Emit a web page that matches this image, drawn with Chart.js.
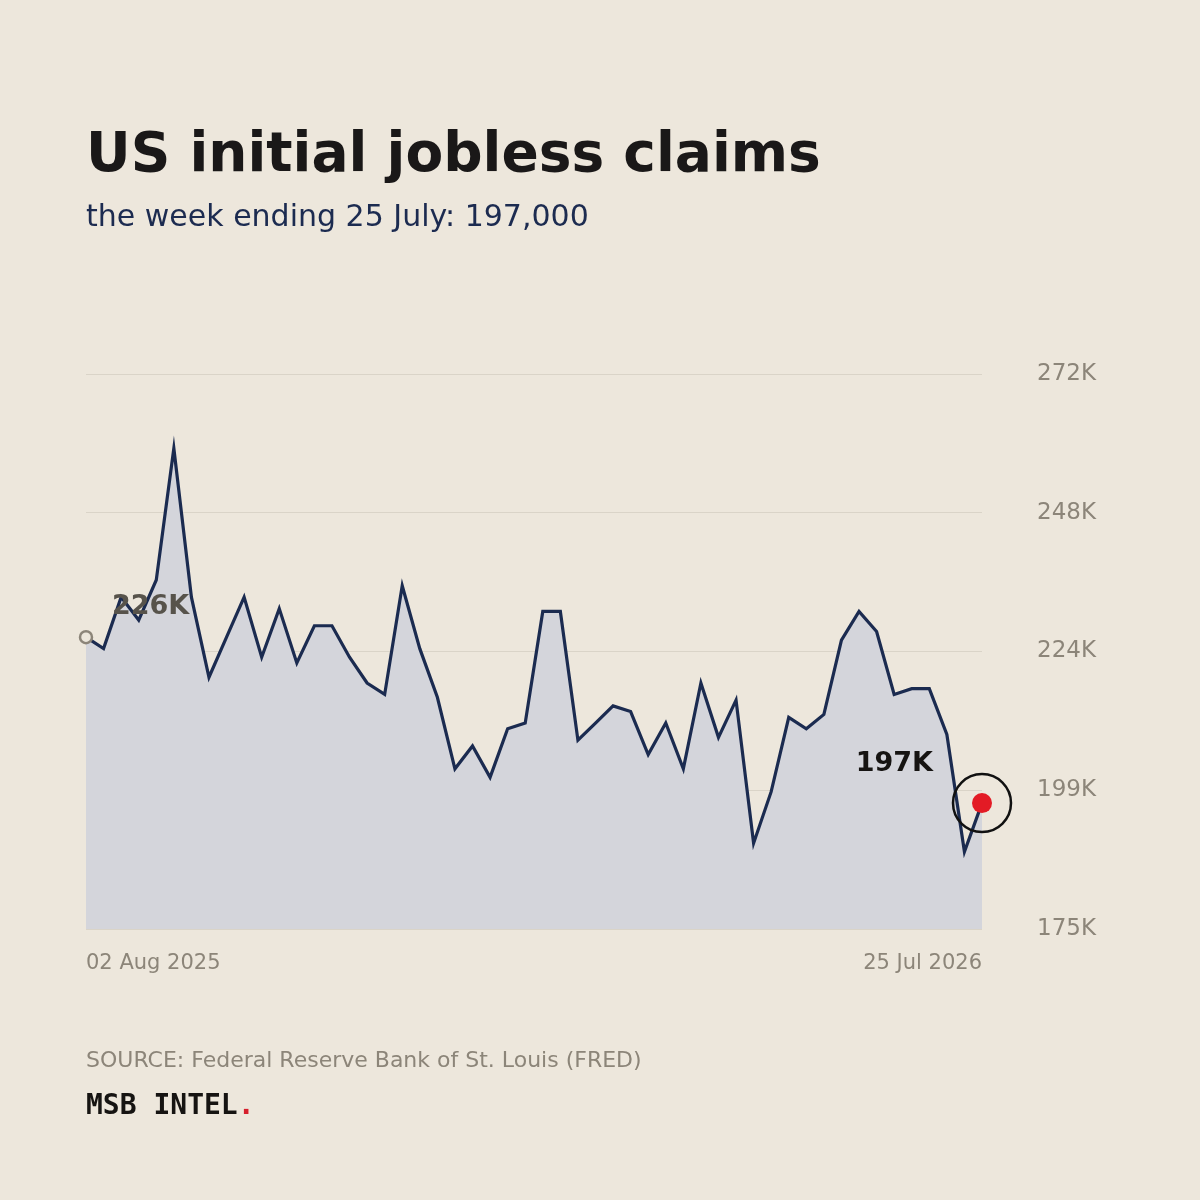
<!DOCTYPE html>
<html>
<head>
<meta charset="utf-8">
<title>US initial jobless claims</title>
<script src="https://cdn.jsdelivr.net/npm/chart.js@4.4.1/dist/chart.umd.min.js"></script>
<style>
  html, body { margin: 0; padding: 0; background: #ede7dc; }
  #wrap { position: relative; width: 1200px; height: 1200px; overflow: hidden; }
  #chart { position: absolute; left: 0; top: 0; }
  .txt { position: absolute; left: 86px; white-space: nowrap; font-family: "DejaVu Sans", sans-serif; }
  .title { top: 125px; font-size: 55px; line-height: 55px; font-weight: bold; color: #1a1818; }
  .sub { top: 201px; font-size: 30px; line-height: 30px; color: #1c2b50; }
  .source { top: 1049px; font-size: 22px; line-height: 22px; color: #8c8579; }
  .brand { top: 1091px; font-family: "DejaVu Sans Mono", monospace; font-size: 28px; line-height: 28px; font-weight: bold; color: #161412; }
  .brand span { color: #d61f2c; }
</style>
</head>
<body>
<div id="wrap">
  <canvas id="chart" width="1200" height="1200"></canvas>
  <div class="txt title">US initial jobless claims</div>
  <div class="txt sub">the week ending 25 July: 197,000</div>
  <div class="txt source">SOURCE: Federal Reserve Bank of St. Louis (FRED)</div>
  <div class="txt brand">MSB INTEL<span>.</span></div>
</div>
<script>
// weekly initial claims, thousands
const WEEKS = [
  '02 Aug 2025', '09 Aug 2025', '16 Aug 2025', '23 Aug 2025', '30 Aug 2025',
  '06 Sep 2025', '13 Sep 2025', '20 Sep 2025', '27 Sep 2025',
  '04 Oct 2025', '11 Oct 2025', '18 Oct 2025', '25 Oct 2025',
  '01 Nov 2025', '08 Nov 2025', '15 Nov 2025', '22 Nov 2025', '29 Nov 2025',
  '06 Dec 2025', '13 Dec 2025', '20 Dec 2025', '27 Dec 2025',
  '03 Jan 2026', '10 Jan 2026', '17 Jan 2026', '24 Jan 2026', '31 Jan 2026',
  '07 Feb 2026', '14 Feb 2026', '21 Feb 2026', '28 Feb 2026',
  '07 Mar 2026', '14 Mar 2026', '21 Mar 2026', '28 Mar 2026',
  '04 Apr 2026', '11 Apr 2026', '18 Apr 2026', '25 Apr 2026',
  '02 May 2026', '09 May 2026', '16 May 2026', '23 May 2026', '30 May 2026',
  '06 Jun 2026', '13 Jun 2026', '20 Jun 2026', '27 Jun 2026',
  '04 Jul 2026', '11 Jul 2026', '18 Jul 2026', '25 Jul 2026'
]
const CLAIMS = [
  226, 224, 233, 229, 236, 259, 233, 219, 226, 233,
  222.5, 231, 221.5, 228, 228, 222.5, 218, 216, 235, 224,
  215.5, 203, 207, 201.5, 210, 211, 230.5, 230.5, 208, 211,
  214, 213, 205.5, 211, 203, 218, 208.5, 215, 190, 199,
  212, 210, 212.5, 225.5, 230.5, 227, 216, 217, 217, 209,
  188.5, 197
]
const Y_TICKS = [175, 199.25, 223.5, 247.75, 272]
const FIRST_LABEL = '226K'
const LAST_LABEL = '197K'

const BG = '#ede7dc'
const GREY = '#8c8579'
const NAVY = '#1b2b50'

let last = CLAIMS.length - 1

// labels + ring around the latest value
const notes = {
    id: 'notes',
    afterDatasetsDraw(chart) {
        let ctx = chart.ctx
        let pts = chart.getDatasetMeta(0).data
        let p0 = pts[0]
        let pn = pts[last]
        ctx.save()
        ctx.font = 'bold 27px "DejaVu Sans"'
        ctx.textBaseline = 'middle'
        ctx.fillStyle = '#57534b'
        ctx.textAlign = 'left'
        ctx.fillText(FIRST_LABEL, p0.x + 26, p0.y - 30)
        ctx.fillStyle = '#161412'
        ctx.textAlign = 'right'
        ctx.fillText(LAST_LABEL, pn.x - 49, pn.y - 39)
        ctx.beginPath()
        ctx.arc(pn.x, pn.y, 29, 0, Math.PI * 2)
        ctx.lineWidth = 2.5
        ctx.strokeStyle = '#111'
        ctx.stroke()
        ctx.restore()
    }
}

new Chart(document.getElementById('chart'), {
    type: 'line',
    data: {
        labels: WEEKS,
        datasets: [{
            data: CLAIMS,
            borderColor: NAVY,
            borderWidth: 3.2,
            backgroundColor: '#d4d5db',
            fill: 'start',
            tension: 0,
            clip: false,
            pointRadius: c => c.dataIndex == 0 ? 6 : (c.dataIndex == last ? 10 : 0),
            pointBorderWidth: c => c.dataIndex == 0 ? 2.5 : 0,
            pointBorderColor: GREY,
            pointBackgroundColor: c => c.dataIndex == 0 ? BG : '#e31b25',
            pointHoverRadius: 0
        }]
    },
    options: {
        responsive: false,
        animation: false,
        events: [],
        layout: { padding: { left: 86, top: 374, right: 0, bottom: 0 } },
        plugins: { legend: { display: false }, tooltip: { enabled: false } },
        scales: {
            x: {
                grid: { display: false },
                border: { display: false },
                afterBuildTicks: s => { s.ticks = [{ value: 0 }, { value: last }] },
                afterFit: s => { s.height = 1200 - 929 },
                ticks: {
                    autoSkip: false,
                    maxRotation: 0,
                    align: 'inner',
                    padding: 14,
                    color: GREY,
                    font: { family: 'DejaVu Sans', size: 21 }
                }
            },
            y: {
                position: 'right',
                min: 175,
                max: 272,
                afterBuildTicks: s => { s.ticks = Y_TICKS.map(v => ({ value: v })) },
                afterFit: s => { s.width = 1200 - 982 },
                grid: { color: '#dad4c8', lineWidth: 1, drawTicks: false },
                border: { display: false },
                ticks: {
                    padding: 55,
                    color: GREY,
                    font: { family: 'DejaVu Sans', size: 23 },
                    callback: v => Math.round(v) + 'K'
                }
            }
        }
    },
    plugins: [notes]
})
</script>
</body>
</html>
